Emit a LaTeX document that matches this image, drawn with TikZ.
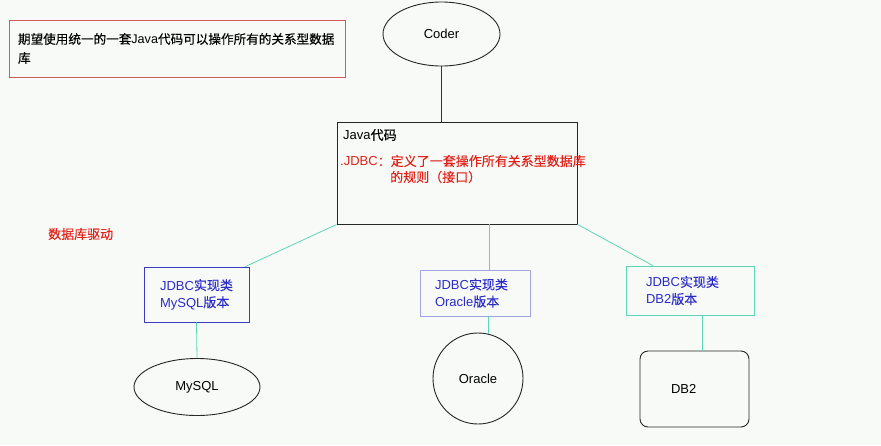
\documentclass[tikz,border=0pt]{standalone}
\usepackage{fontspec}
\setmainfont{Liberation Sans}
\newfontfamily\cjk{Noto Sans CJK SC}[FakeBold=0.2]
\usetikzlibrary{shapes.geometric, positioning}
\definecolor{paper}{HTML}{F8FAF8}
\definecolor{jred}{HTML}{E2231A}
\definecolor{jblue}{HTML}{2B2BC9}
\definecolor{jteal}{HTML}{5CD7B6}
\definecolor{jlav}{HTML}{A3A3E2}
\definecolor{jnavy}{HTML}{3A3AC2}
\definecolor{boxred}{HTML}{CF5A5A}
\tikzset{
  base/.style   ={font=\fontsize{13}{17}\selectfont, inner sep=0pt},
  goal/.style   ={base, draw=boxred, line width=0.8pt, align=left,
                  font=\fontsize{12.6}{19}\selectfont, inner xsep=9pt, text width=318pt,
                  minimum height=57pt},
  codebox/.style={draw=black!85, line width=0.9pt, minimum width=240pt, minimum height=102pt},
  impl/.style   ={base, align=left, text=jblue, line width=0.8pt, minimum height=55pt},
  dbell/.style  ={base, ellipse, draw=black!85, line width=0.9pt},
  redtxt/.style ={base, text=jred, anchor=west},
  link/.style   ={draw=jteal, line width=0.8pt},
}
\begin{document}
\begin{tikzpicture}[x=1pt, y=-1pt]
\fill[paper] (0,0) rectangle (881,445);
\useasboundingbox (0,0) rectangle (881,445);

% top: wish + coder
\node[goal] (wish) at (177,48.5) {{\cjk 期望使用统一的一套}Java{\cjk 代码可以操作所有的关系型数据}\\{\cjk 库}};
\node[dbell, minimum width=117pt, minimum height=64pt] (coder) at (441.5,34) {Coder};

% java code box
\node[codebox] (java) at (457,173) {};
\node[base, anchor=west] (javalbl) at (343,135) {Java{\cjk 代码}};
\node[redtxt] (jdbc1) at (340,161) {.JDBC{\cjk ：定义了一套操作所有关系型数据库}};
\node[redtxt] (jdbc2) at (390,177) {{\cjk 的规则（接口）}};

\node[redtxt] (driver) at (48,234) {{\cjk 数据库驱动}};

% implementations
\node[impl, draw=jnavy, text width=73pt, inner xsep=16pt] (mysqlimpl) at (196.5,294.5)
  {JDBC{\cjk 实现类}\\MySQL{\cjk 版本}};
\node[impl, draw=jlav, text width=80pt, inner xsep=15pt, minimum height=46pt] (oracleimpl) at (475,293)
  {JDBC{\cjk 实现类}\\Oracle{\cjk 版本}};
\node[impl, draw=jteal, text width=88pt, inner xsep=20pt, minimum height=49pt] (db2impl) at (690,290.5)
  {JDBC{\cjk 实现类}\\DB2{\cjk 版本}};

% databases
\node[dbell, minimum width=126pt, minimum height=57pt] (mysql) at (197,387) {MySQL};
\node[dbell, minimum width=90pt, minimum height=91pt] (oracle) at (478,378.5) {Oracle};
\node[base, draw=black!85, line width=0.9pt, rounded corners=8pt, align=left,
      text width=47pt, inner xsep=31pt, minimum height=76pt] (db2) at (694.5,389) {DB2};

\draw[black!80, line width=0.9pt] (coder.south) -- (coder.south |- java.north);
\draw[link] (java.south west) -- ([xshift=-4pt]mysqlimpl.north east);
\draw[link] ([xshift=14pt]oracleimpl.north |- java.south) -- ([xshift=14pt]oracleimpl.north);
\draw[link] (java.south east) -- ([xshift=-37pt]db2impl.north);
\draw[link] (mysqlimpl.south) -- (mysql.north);
\draw[link] ([xshift=13pt]oracleimpl.south) -- ([xshift=13pt,yshift=-1pt]oracleimpl.south |- oracle.north);
\draw[link] ([xshift=12pt]db2impl.south) -- ([xshift=12pt]db2impl.south |- db2.north);
\end{tikzpicture}
\end{document}
